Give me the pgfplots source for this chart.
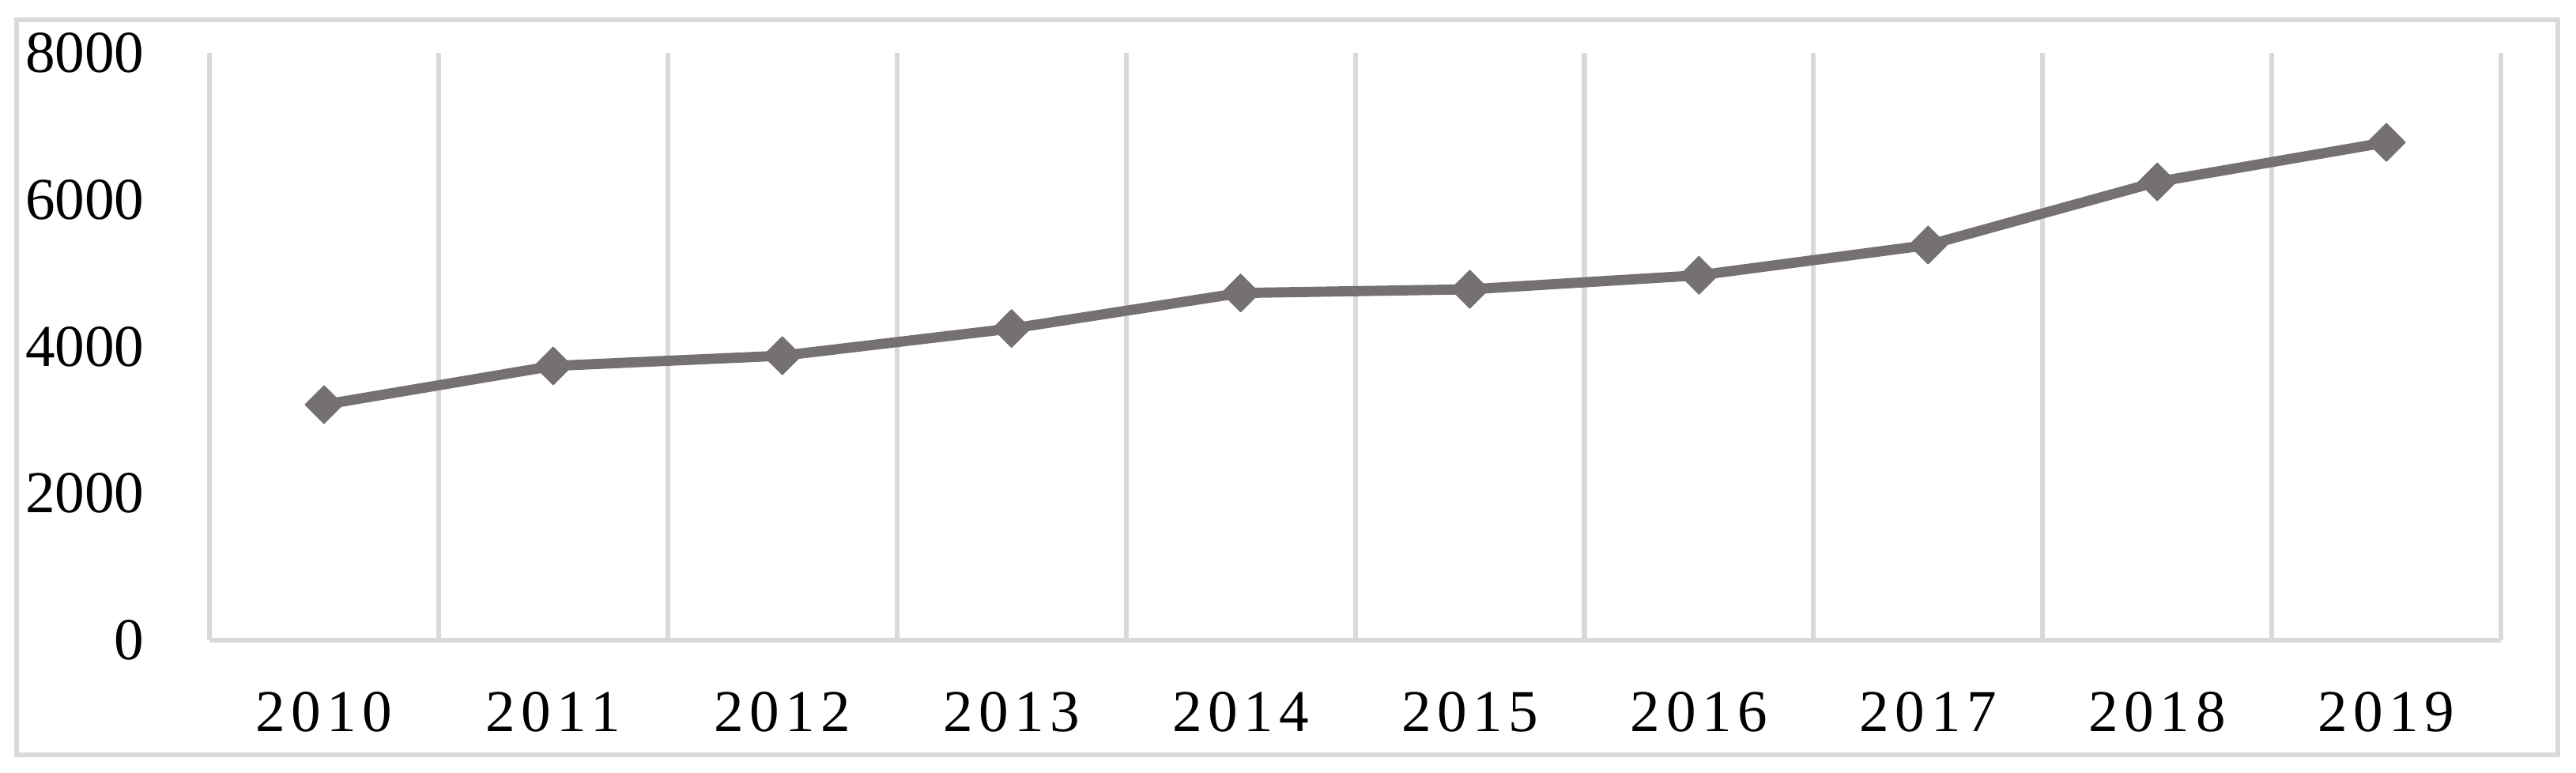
\documentclass[border=0pt]{standalone}
\usepackage{fontspec}
\setmainfont{Liberation Serif}
\newfontfamily\spacedserif[LetterSpace=10]{Liberation Serif}
\usepackage{pgfplots}
\pgfplotsset{compat=1.18}
\definecolor{gridgray}{HTML}{D9D9D9}
\definecolor{linegray}{HTML}{767171}

\begin{document}
\begin{tikzpicture}
% page = whole chart area, border drawn like the spreadsheet frame
\path[use as bounding box] (-37.02pt,-23.47pt) rectangle (418.22pt,113.13pt);
\draw[gridgray, line width=0.85pt] (-34.08pt,-20.26pt) rectangle (415.02pt,109.66pt);
\begin{axis}[
  at={(0,0)}, anchor=south west,
  scale only axis, width=404.96pt, height=103.79pt,
  xmin=0.5, xmax=10.5, ymin=0, ymax=8000,
  axis x line*=bottom, axis y line*=left,
  axis line style={draw=gridgray, line width=0.85pt, -},
  xtick={1,...,10},
  xticklabels={2010,2011,2012,2013,2014,2015,2016,2017,2018,2019},
  minor xtick={0.5,1.5,...,10.5},
  xminorgrids=true,
  minor grid style={gridgray, line width=0.85pt},
  ytick={0,2000,4000,6000,8000},
  major tick length=0pt, minor tick length=0pt,
  /pgf/number format/assume math mode=true,
  /pgf/number format/1000 sep={},
  yticklabel style={font=\fontsize{10.5}{12}\selectfont},
  xticklabel style={font=\spacedserif\fontsize{10.5}{12}\selectfont},
  yticklabel shift=8pt,
  xticklabel shift=5.7pt,
  clip=false,
]
\addplot[linegray, line width=1.8pt, line join=round,
  mark=square*, mark size=2.35pt,
  mark options={rotate=45, line width=0.2pt, draw=linegray, fill=linegray}]
  coordinates {(1,3208)(2,3735)(3,3875)(4,4245)(5,4729)(6,4779)(7,4970)(8,5382)(9,6243)(10,6781)};
\end{axis}
\end{tikzpicture}
\end{document}
